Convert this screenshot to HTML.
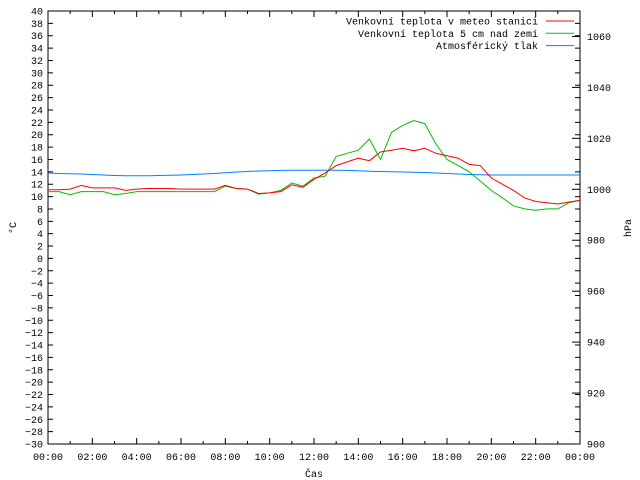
<!DOCTYPE html>
<html><head><meta charset="utf-8"><style>
body{margin:0;background:#fff}
svg{display:block;font-family:"Liberation Mono","DejaVu Sans Mono",monospace;font-size:10px}
</style></head><body>
<svg id="c" width="640" height="480"></svg>
<script>
const hours=[0,0.5,1,1.5,2,2.5,3,3.5,4,4.5,5,5.5,6,6.5,7,7.5,8,8.5,9,9.5,10,10.5,11,11.5,12,12.5,13,13.5,14,14.5,15,15.5,16,16.5,17,17.5,18,18.5,19,19.5,20,20.5,21,21.5,22,22.5,23,23.5,24];
const tempStation=[11.1,11.1,11.2,11.8,11.4,11.4,11.4,11.0,11.2,11.3,11.3,11.3,11.2,11.2,11.2,11.2,11.8,11.3,11.2,10.5,10.6,10.8,11.9,11.5,12.8,13.8,15.0,15.6,16.2,15.8,17.2,17.5,17.8,17.4,17.8,17.0,16.6,16.2,15.2,15.0,13.0,12.0,11.0,9.8,9.2,9.0,8.8,9.1,9.4];
const tempGround=[10.8,10.8,10.3,10.8,10.8,10.8,10.3,10.5,10.8,10.8,10.8,10.8,10.8,10.8,10.8,10.8,11.7,11.3,11.2,10.4,10.6,11.0,12.2,11.7,13.0,13.3,16.5,17.0,17.5,19.3,16.0,20.4,21.5,22.3,21.8,18.5,16.0,15.0,14.0,12.5,11.0,9.8,8.5,8.0,7.8,8.0,8.0,9.0,9.4];
const pressure=[1006.4,1006.2,1006.1,1006.0,1005.8,1005.6,1005.4,1005.3,1005.3,1005.3,1005.4,1005.5,1005.6,1005.8,1006.0,1006.2,1006.5,1006.8,1007.0,1007.2,1007.3,1007.4,1007.5,1007.5,1007.5,1007.5,1007.5,1007.4,1007.3,1007.1,1007.0,1006.9,1006.8,1006.7,1006.6,1006.4,1006.2,1006.0,1005.8,1005.7,1005.6,1005.6,1005.6,1005.6,1005.6,1005.6,1005.6,1005.6,1005.6];
const yTicks=[-30,-28,-26,-24,-22,-20,-18,-16,-14,-12,-10,-8,-6,-4,-2,0,2,4,6,8,10,12,14,16,18,20,22,24,26,28,30,32,34,36,38,40];
const y2Ticks=[900,920,940,960,980,1000,1020,1040,1060];
const xTickLabels=["00:00","02:00","04:00","06:00","08:00","10:00","12:00","14:00","16:00","18:00","20:00","22:00","00:00"];
const L=48,R=580,T=11,B=444;
const xs=h=>L+h/24*(R-L);
const ys=v=>B-(v+30)/70*(B-T);
const ys2=p=>B-(p-900)/170*(B-T);
const svg=document.getElementById('c');
const NS='http://www.w3.org/2000/svg';
function mk(tag,attrs,text){const e=document.createElementNS(NS,tag);for(const k in attrs)e.setAttribute(k,attrs[k]);if(text!==undefined)e.textContent=text;svg.appendChild(e);return e;}
let e;
e=mk('rect',{x:L,y:T,width:R-L,height:B-T,fill:'none',stroke:'#000','stroke-width':1});


yTicks.forEach(v=>{const y=ys(v);
 e=mk('path',{d:`M${L} ${y}h5M${R} ${y}h-5`,stroke:'#000'});
 
 
 e=mk('text',{x:L-5,y:y+3.5,'text-anchor':'end'},String(v).replace('-','−'));
 
 
});
y2Ticks.forEach(p=>{const y=ys2(p);
 e=mk('path',{d:`M${R} ${y}h-8`,stroke:'#000'});
 
 
 e=mk('text',{x:587,y:y+3.5},String(p));
 
 
});
for(let h=0;h<=24;h++){const x=xs(h),len=h%2?3:6;
 e=mk('path',{d:`M${x} ${B}v-${len}M${x} ${T}v${len}`,stroke:'#000'});
 
 
}
xTickLabels.forEach((s,i)=>{
 e=mk('text',{x:xs(i*2),y:460,'text-anchor':'middle'},s);
 
 
});
function line(arr,f,color,name){
 const d=arr.map((v,i)=>(i?'L':'M')+xs(hours[i]).toFixed(1)+' '+f(v).toFixed(1)).join('');
 const p=mk('path',{d:d,fill:'none',stroke:color,'stroke-width':1});
 
 
}
line(pressure,ys2,'#0080ff','series-pressure');
line(tempGround,ys,'#00c000','series-temp-ground');
line(tempStation,ys,'#ff0000','series-temp-station');
const leg=[["Venkovní teplota v meteo stanici","#ff0000"],["Venkovní teplota 5 cm nad zemí","#00c000"],["Atmosférický tlak","#0080ff"]];
leg.forEach((l,i)=>{const y=21+i*12.3;
 e=mk('text',{x:538,y:y+3.5,'text-anchor':'end'},l[0]);
 
 
 e=mk('path',{d:`M546 ${y}H574`,stroke:l[1]});
 
 
});
e=mk('text',{x:314,y:477,'text-anchor':'middle'},'Čas');


e=mk('text',{x:16,y:228,'text-anchor':'middle',transform:'rotate(-90 16 228)'},'°C');


e=mk('text',{x:631,y:228,'text-anchor':'middle',transform:'rotate(-90 631 228)'},'hPa');


</script>
</body></html>
